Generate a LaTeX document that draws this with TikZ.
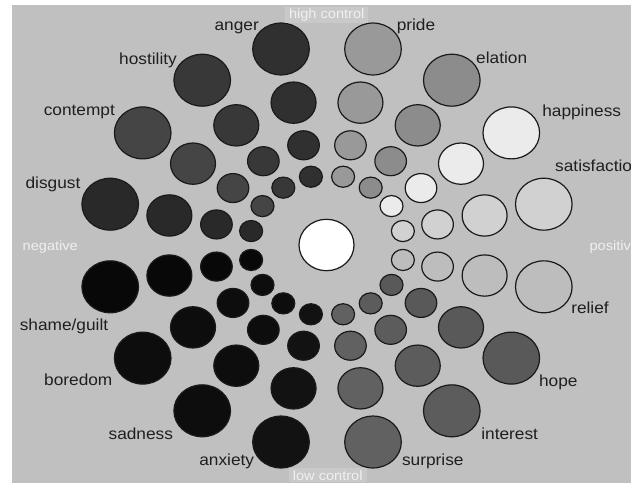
\documentclass[tikz,border=0pt]{standalone}
\usepackage{fontspec}
\setmainfont{Liberation Sans}[FakeStretch=1.08]
\usepackage{xcolor}
\usetikzlibrary{shapes.geometric}
\definecolor{panel}{RGB}{192,192,192}
\definecolor{ctrlbox}{RGB}{201,201,201}
\definecolor{rimline}{HTML}{1A1A1A}
\definecolor{axistext}{HTML}{F0F0F0}

\begin{document}
\begin{tikzpicture}[x=1pt, y=-1pt,
      emo/.style={ellipse, draw=rimline, line width=1.2pt, inner sep=0pt},
      lbl/.style={font=\fontsize{16}{18}\selectfont, text=black!88, inner sep=0pt, anchor=base},
      ax/.style={font=\fontsize{13.5}{15}\selectfont, text=axistext, anchor=base},
      ctrl/.style={ax, fill=ctrlbox, inner xsep=4pt, inner ysep=2pt}]
    \clip (0,0) rectangle (631,485);
    \fill[panel] (12,5) rectangle (631,483);
    \node[emo, fill=white, minimum width=55, minimum height=51.4] (mid) at (326.5,245) {};
    % one spoke per emotion: offset of the outer circle, grey of the fill
    \foreach \n/\dx/\dy/\g in {anger/-46/-196.5/81, pride/46/-196.5/40,
        hostility/-124.8/-165.3/78, elation/124.8/-165.3/45,
        contempt/-184.3/-112.6/73, happiness/184.3/-112.6/8,
        disgust/-216.8/-41.3/84, satisfaction/216.8/-41.3/18,
        shame/-216.8/41.3/97, relief/216.8/41.3/26,
        boredom/-184.3/112.6/95, hope/184.3/112.6/65,
        sadness/-124.8/165.3/95, interest/124.8/165.3/64,
        anxiety/-46/196.5/93, surprise/46/196.5/62} {
      \foreach \k/\f/\r in {1/0.35/11.5, 2/0.51/15.8, 3/0.727/22.5, 4/1/28.3} {
        \node[emo, fill=black!\g, minimum width={2*\r}, minimum height={2*\r/1.09}]
          (\n\k) at ({327+\f*\dx}, {245.5+\f*\dy}) {};
      }
    }
    \foreach \t/\x/\y [count=\i] in {anger/236.7/30, hostility/148/64, contempt/79.3/115,
        disgust/53/188.3, {shame/guilt}/64/330.7, boredom/78.3/385.7,
        sadness/140.8/439.3, anxiety/226.7/465.7, pride/416/30, elation/501.7/63.3,
        happiness/581.7/116.7, relief/590/313.3, hope/558.3/386,
        interest/509.7/439.3, surprise/432.8/465.7} {
      \node[lbl] (t\i) at (\x,\y) {\t};
    }
    \node[lbl, anchor=base west] (tsat) at (555,171.7) {satisfaction};
    \node[ctrl] (high) at (326.7,18.3) {high control};
    \node[ctrl] (low) at (327.7,480) {low control};
    \node[ax] (neg) at (50.3,250) {negative};
    \node[ax, anchor=base west] (pos) at (586,250) {positive};
  \end{tikzpicture}
\end{document}
